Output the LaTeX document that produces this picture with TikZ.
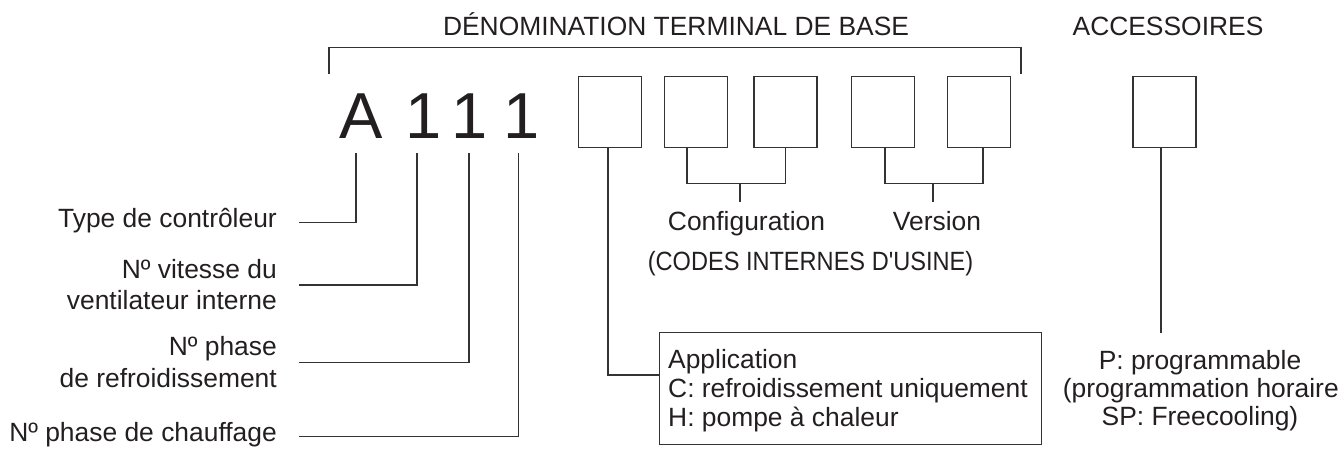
\documentclass[tikz,border=0pt]{standalone}
\usepackage{fontspec}
\newfontfamily\lib{Liberation Sans}
\definecolor{ink}{HTML}{231F20}
\definecolor{wirec}{HTML}{333333}
\begin{document}
\begin{tikzpicture}[x=1pt,y=-1pt,
  lbl/.style={font=\lib\fontsize{26.4}{30}\selectfont, text=ink, inner sep=0pt},
  big/.style={font=\lib\fontsize{65}{70}\selectfont, text=ink, inner sep=0pt, anchor=base},
  slot/.style={draw=wirec, line width=1.5pt, minimum width=63pt, minimum height=71pt, inner sep=0pt},
  wire/.style={draw=wirec, line width=1.3pt}]
\useasboundingbox (0,0) rectangle (1341,448);

% titles
\node[lbl, anchor=base] (title) at (676,35) {DÉNOMINATION TERMINAL DE BASE};
\node[lbl, anchor=base] (acc) at (1168,35) {ACCESSOIRES};

% bracket over base designation
\coordinate (brL) at (329,74);
\coordinate (brTL) at (329,47.5);
\coordinate (brR) at (1021,74);
\draw[wire] (brL) -- (brTL) -| (brR);

% big characters
\node[big] (cA) at (361.5,138.3) {A};
\node[big] (c1) at (423.4,138.3) {1};
\node[big] (c2) at (469.4,138.3) {1};
\node[big] (c3) at (521.4,138.3) {1};

% slots
\node[slot] (b1) at (610,112) {};
\node[slot] (b2) at (696,112) {};
\node[slot] (b3) at (785.5,112) {};
\node[slot] (b4) at (883,112) {};
\node[slot] (b5) at (979,112) {};
\node[slot] (bA) at (1164.5,112) {};

% left labels
\node[lbl, anchor=base east] (lType) at (277,227.3) {Type de contrôleur};
\node[lbl, anchor=base east] (lVitA) at (277,278.3) {Nº vitesse du};
\node[lbl, anchor=base east] (lVitB) at (277,309.5) {ventilateur interne};
\node[lbl, anchor=base east] (lRefA) at (277,355) {Nº phase};
\node[lbl, anchor=base east] (lRefB) at (277,387.3) {de refroidissement};
\node[lbl, anchor=base east] (lCh) at (277,441.7) {Nº phase de chauffage};

% connectors from characters to labels
\coordinate (tA) at (356,153);   \coordinate (eA) at (299,222.3);
\coordinate (t1) at (417,153);   \coordinate (e1) at (299,285);
\coordinate (t2) at (469,153);   \coordinate (e2) at (299,362.3);
\coordinate (t3) at (518.5,153); \coordinate (e3) at (299,436.5);
\draw[wire] (tA) |- (eA);
\draw[wire] (t1) |- (e1);
\draw[wire] (t2) |- (e2);
\draw[wire] (t3) |- (e3);

% configuration / version brackets
\coordinate (cfgM) at (740,183);  \coordinate (cfgE) at (740,202);
\coordinate (verM) at (933,183);  \coordinate (verE) at (933,202);
\draw[wire] ([xshift=-9pt]b2.south) -- ++(0,35) -| (b3.south);
\draw[wire] (cfgM) -- (cfgE);
\draw[wire] ([xshift=2pt]b4.south) -- ++(0,35) -| ([xshift=4pt]b5.south);
\draw[wire] (verM) -- (verE);
\node[lbl, anchor=base] (cfg) at (746.5,230) {Configuration};
\node[lbl, anchor=base] (ver) at (937,230) {Version};
\node[lbl, anchor=base] (codes) at (810.5,270) {\scalebox{0.893}[1]{(CODES INTERNES D'USINE)}};

% application box
\node[draw=wirec, line width=1.3pt, minimum width=382pt, minimum height=112pt, inner sep=0pt, anchor=north west] (app) at (659,332) {};
\node[lbl, anchor=base west] (appA) at (668,368.3) {Application};
\node[lbl, anchor=base west] (appB) at (668,397.5) {C: refroidissement uniquement};
\node[lbl, anchor=base west] (appC) at (668,426.7) {H: pompe à chaleur};
\coordinate (appIn) at (659,375);
\draw[wire] ([xshift=-2pt]b1.south) |- (appIn);

% accessory
\coordinate (accEnd) at (1161,333);
\draw[wire] ([xshift=-3.5pt]bA.south) -- (accEnd);
\node[lbl, anchor=base] (pA) at (1200,369.3) {P: programmable};
\node[lbl, anchor=base west] (pB) at (1062.7,397) {(programmation horaire};
\node[lbl, anchor=base] (pC) at (1200,425.3) {SP: Freecooling)};
\end{tikzpicture}
\end{document}
